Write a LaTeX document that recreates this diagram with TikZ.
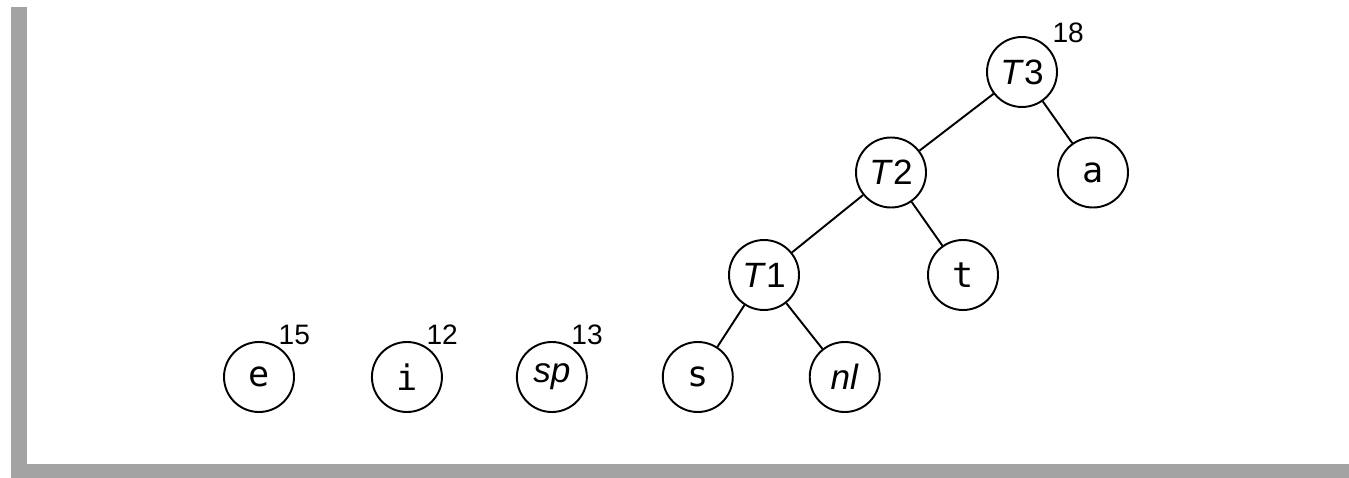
\documentclass[tikz,border=0pt]{standalone}
\usepackage{fontspec}
\setmainfont{Liberation Sans}
\setmonofont{DejaVu Sans Mono}
\usepackage{tikz}
\usetikzlibrary{positioning}

\definecolor{frame}{RGB}{163,163,163}

\begin{document}
\begin{tikzpicture}[every node/.style={font=\fontsize{20}{22}\selectfont},
  tree/.style={circle,draw,line width=1.1pt,minimum size=1.4cm,inner sep=0pt},
  wt/.style={font=\fontsize{16}{18}\selectfont,inner sep=0pt,label distance=-1pt,xshift=-2.8pt,yshift=4.5pt},
  link/.style={line width=1.1pt}]

\useasboundingbox (0,0) rectangle (26.98,-9.56);

%frame
\fill[frame] (0.21,-0.14) rectangle (0.53,-9.56);
\fill[frame] (0.21,-9.28) rectangle (26.98,-9.56);

%leaves
\node[tree,label={[wt]45:15}] (e) at (5.18,-7.54) {\texttt{e}};
\node[tree,label={[wt]45:12},right = 1.52cm of e] (i) {\texttt{i}};
\node[tree,label={[wt]45:13},right = 1.46cm of i] (sp) {\textit{sp}};
\node[tree,right = 1.48cm of sp] (s) {\texttt{s}};
\node[tree,right = 1.5cm of s] (nl) {\textit{nl}};

%inner
\node[tree] (T1) at (15.28,-5.5) {\textit{T}1};
\node[tree] (t) at (19.26,-5.5) {\texttt{t}};
\node[tree] (T2) at (17.82,-3.45) {\textit{T}2};
\node[tree] (a) at (21.86,-3.45) {\texttt{a}};
\node[tree,label={[wt,xshift=6.2pt,yshift=-1.7pt]45:18}] (T3) at (20.44,-1.44) {\textit{T}3};

\path[link] (T3) edge (T2);
\path[link] (T3) edge (a);
\path[link] (T2) edge (T1);
\path[link] (T2) edge (t);
\path[link] (T1) edge (s);
\path[link] (T1) edge (nl);
\end{tikzpicture}
\end{document}
